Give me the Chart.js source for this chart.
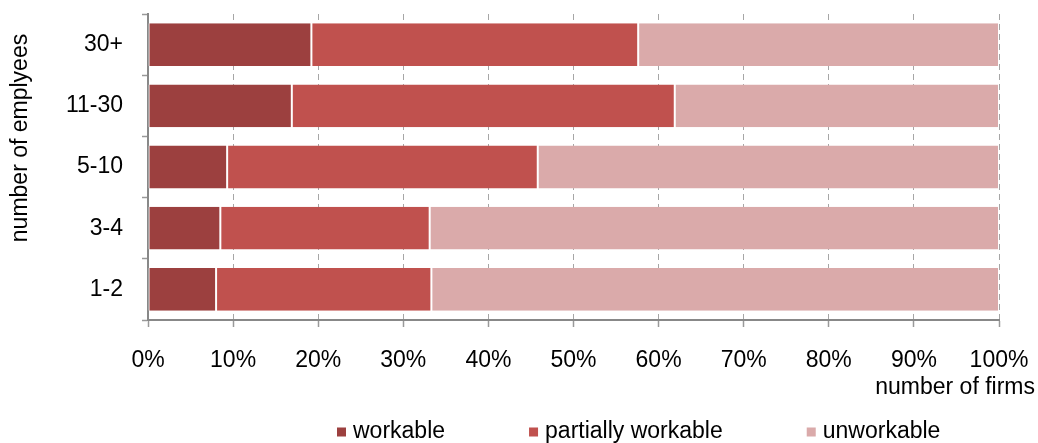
<!DOCTYPE html>
<html>
<head>
<meta charset="utf-8">
<script src="https://cdn.jsdelivr.net/npm/chart.js@4"></script>
<style>
  html, body { margin: 0; padding: 0; background: #fff; }
</style>
</head>
<body>
<canvas id="firmsChart" width="1038" height="443"></canvas>
<script>
// firm size groups, top to bottom
const sizes = ["30+", "11-30", "5-10", "3-4", "1-2"];

// share of firms (%) in each group
const workable = [19.2, 16.9, 9.3, 8.5, 8.0];
const partially_workable = [38.4, 45.0, 36.5, 24.6, 25.3];
const unworkable = [42.4, 38.1, 54.2, 66.9, 66.7];

const series_names = ["workable", "partially workable", "unworkable"];
const series_colors = ["#9c403f", "#c0514e", "#daaaaa"];

const FONT = "'Liberation Sans', Arial, sans-serif";

Chart.defaults.font.family = FONT;
Chart.defaults.font.size = 23;
Chart.defaults.color = "#000";

function noPadding(scale) {
  scale.paddingTop = 0;
  scale.paddingBottom = 0;
  scale.paddingLeft = 0;
  scale.paddingRight = 0;
}

// axis titles and the legend row are drawn by hand
const extras = {
  id: "extras",
  afterDraw(chart) {
    const ctx = chart.ctx;
    const area = chart.chartArea;

    ctx.save();
    ctx.fillStyle = "#000";
    ctx.font = "23px " + FONT;
    ctx.textBaseline = "middle";

    // y title
    ctx.save();
    ctx.translate(21, area.top + 124);
    ctx.rotate(-Math.PI / 2);
    ctx.textAlign = "center";
    ctx.fillText("number of emplyees", 0, 0);
    ctx.restore();

    // x title
    ctx.textAlign = "right";
    ctx.fillText("number of firms", area.right + 36, 388);

    // legend
    let x = 337;
    const y = 432;
    ctx.textAlign = "left";
    chart.data.datasets.forEach((ds) => {
      ctx.fillStyle = ds.backgroundColor;
      ctx.fillRect(x, y - 4.5, 9, 9);
      ctx.fillStyle = "#000";
      ctx.fillText(ds.label, x + 16, y);
      x += 16 + ctx.measureText(ds.label).width + 84;
    });
    ctx.restore();
  },
};

const ctx = document.getElementById("firmsChart");

new Chart(ctx, {
  type: "bar",
  data: {
    labels: sizes,
    datasets: [
      { label: series_names[0], data: workable, backgroundColor: series_colors[0] },
      { label: series_names[1], data: partially_workable, backgroundColor: series_colors[1] },
      { label: series_names[2], data: unworkable, backgroundColor: series_colors[2] },
    ],
  },
  options: {
    indexAxis: "y",
    responsive: false,
    animation: false,
    layout: { padding: { top: 14, right: 39, bottom: 0, left: 0 } },
    datasets: {
      bar: {
        categoryPercentage: 1,
        barPercentage: 0.7,
        borderColor: "#ffffff",
        borderWidth: { left: 1, right: 1, top: 0, bottom: 0 },
        borderSkipped: false,
      },
    },
    plugins: {
      legend: { display: false },
      tooltip: { enabled: false },
    },
    scales: {
      x: {
        stacked: true,
        min: 0,
        max: 100,
        afterFit(scale) {
          scale.height = 123;
          noPadding(scale);
        },
        ticks: {
          stepSize: 10,
          padding: 20,
          callback: (v) => v + "%",
        },
        grid: {
          color: "#a6a6a6",
          lineWidth: 1,
          tickLength: 7,
          tickColor: "#999",
          tickWidth: 1.5,
          tickBorderDash: [],
        },
        border: { color: "#888", width: 2, dash: [6, 4] },
      },
      y: {
        stacked: true,
        afterFit(scale) {
          scale.width = 148;
          noPadding(scale);
        },
        ticks: { padding: 19 },
        grid: {
          drawOnChartArea: false,
          tickLength: 6,
          tickColor: "#999",
          tickWidth: 1.5,
        },
        border: { color: "#888", width: 2 },
      },
    },
  },
  plugins: [extras],
});
</script>
</body>
</html>
